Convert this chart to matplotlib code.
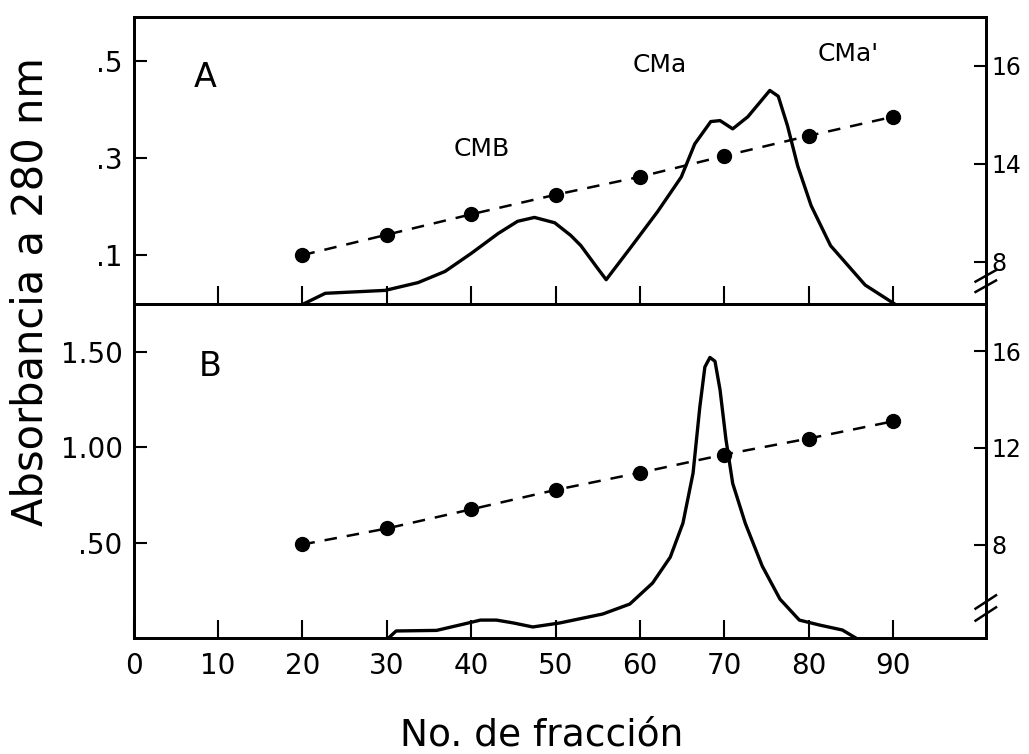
import numpy as np
import matplotlib
matplotlib.use("Agg")
import matplotlib.pyplot as plt

# panel A: absorbance trace (fraction no., A280)
a_frac = [20.1, 22.7, 29.8, 33.7, 36.9, 40.0, 43.2, 45.5, 47.5, 49.9, 51.8, 53.0, 55.0, 56.0,
          58.9, 62.1, 64.9, 66.5, 68.4, 69.5, 71.0, 72.8, 75.4, 76.4, 77.5, 78.7, 80.3, 82.6,
          86.7, 90.2]
a_abs = [0.0, 0.022, 0.028, 0.044, 0.067, 0.104, 0.145, 0.170, 0.178, 0.167, 0.141, 0.120, 0.073,
         0.050, 0.116, 0.190, 0.261, 0.329, 0.375, 0.377, 0.360, 0.385, 0.439, 0.427, 0.366,
         0.284, 0.202, 0.120, 0.039, 0.0]
# panel A: gradient points (right axis)
a_grad_frac = [20, 30, 40, 50, 60, 70, 80, 90]
a_grad = [8.4, 9.65, 10.9, 12.1, 13.2, 14.16, 14.57, 14.96]

# panel B
b_frac = [30.2, 31.1, 35.9, 39.1, 41.1, 43.0, 45.0, 47.3, 50.5, 55.6, 58.8, 61.5, 63.6, 65.1,
          66.3, 67.1, 67.7, 68.3, 68.9, 69.5, 70.2, 71.0, 72.5, 74.5, 76.6, 78.9, 81.3, 84.0,
          85.6]
b_abs = [0.0, 0.037, 0.04, 0.073, 0.094, 0.094, 0.079, 0.058, 0.079, 0.126, 0.178, 0.288, 0.424,
         0.602, 0.864, 1.21, 1.42, 1.47, 1.45, 1.30, 1.04, 0.81, 0.60, 0.377, 0.204, 0.094,
         0.068, 0.042, 0.0]
b_grad_frac = [20, 30, 40, 50, 60, 70, 80, 90]
b_grad = [8.02, 8.68, 9.47, 10.27, 10.98, 11.73, 12.39, 13.10]

x_ticks = [0, 10, 20, 30, 40, 50, 60, 70, 80, 90]


# right axis of A is broken between 8 and 14
def fwd(v):
    v = np.asarray(v, dtype=float)
    return np.where(v < 14, 14 - (14 - v) / 3.0, v)


def inv(p):
    p = np.asarray(p, dtype=float)
    return np.where(p < 14, 14 - (14 - p) * 3.0, p)


plt.rcParams['font.family'] = ['DejaVu Sans']
fig = plt.figure(figsize=(10.29, 7.54), dpi=100)

axA = fig.add_axes([0.13, 0.5968, 0.828, 0.3807])
axB = fig.add_axes([0.13, 0.1538, 0.828, 0.4430])
axA2 = axA.twinx()
axB2 = axB.twinx()

dash = (0, (5, 4))
for ax, ax2, fx, fy, gx, gy in [(axA, axA2, a_frac, a_abs, a_grad_frac, a_grad),
                                (axB, axB2, b_frac, b_abs, b_grad_frac, b_grad)]:
    ax.plot(fx, fy, color='black', lw=2.4, solid_joinstyle='round')
    ax2.plot(gx, gy, color='black', lw=1.8, linestyle=dash, marker='o', markersize=10)
    ax.set_xlim(0, 101)
    for a in (ax, ax2):
        for s in a.spines.values():
            s.set_linewidth(2)
    ax.tick_params(axis='y', direction='in', length=9, width=1.5, labelsize=20, pad=8)
    ax.tick_params(axis='x', direction='in', length=13, width=1.5, labelsize=20, pad=10)
    ax2.tick_params(axis='y', direction='in', length=9, width=1.5, labelsize=17, pad=4)

# panel A
axA.set_ylim(0, 0.59)
axA.set_yticks([0.1, 0.3, 0.5], ['.1', '.3', '.5'])
axA.set_xticks(x_ticks[1:])
axA.tick_params(axis='x', labelbottom=False)
axA2.set_yscale('function', functions=(fwd, inv))
axA2.set_ylim(5.4, 17.0)
axA2.set_yticks([8, 14, 16], ['8', '14', '16'])
axA2.minorticks_off()

axA.text(8.5, 0.465, 'A', fontsize=24, ha='center', va='center')
axA.text(41.2, 0.318, 'CMB', fontsize=18, ha='center', va='center')
axA.text(62.4, 0.492, 'CMa', fontsize=18, ha='center', va='center')
axA.text(84.7, 0.513, "CMa'", fontsize=18, ha='center', va='center')

# panel B
axB.set_ylim(0, 1.75)
axB.set_yticks([0.5, 1.0, 1.5], ['.50', '1.00', '1.50'])
axB.set_xticks(x_ticks, [str(t) for t in x_ticks])
axB2.set_ylim(4.16, 17.94)
axB2.set_yticks([8, 12, 16], ['8', '12', '16'])
axB.text(9.1, 1.42, 'B', fontsize=24, ha='center', va='center')

# break marks on the right spines
for ax, yb in [(axA2, 0.08), (axB2, 0.09)]:
    for dy in (-0.018, 0.018):
        ax.plot([0.988, 1.012], [yb + dy - 0.02, yb + dy + 0.02], transform=ax.transAxes,
                color='black', lw=1.8, clip_on=False)

fig.text(0.03, 1 - 292 / 754, 'Absorbancia a 280 nm', rotation=90, fontsize=30,
         ha='center', va='center')
fig.text(0.526, 0.024, 'No. de fracción', fontsize=27, ha='center', va='center')

fig.savefig('out.png', dpi=100)
